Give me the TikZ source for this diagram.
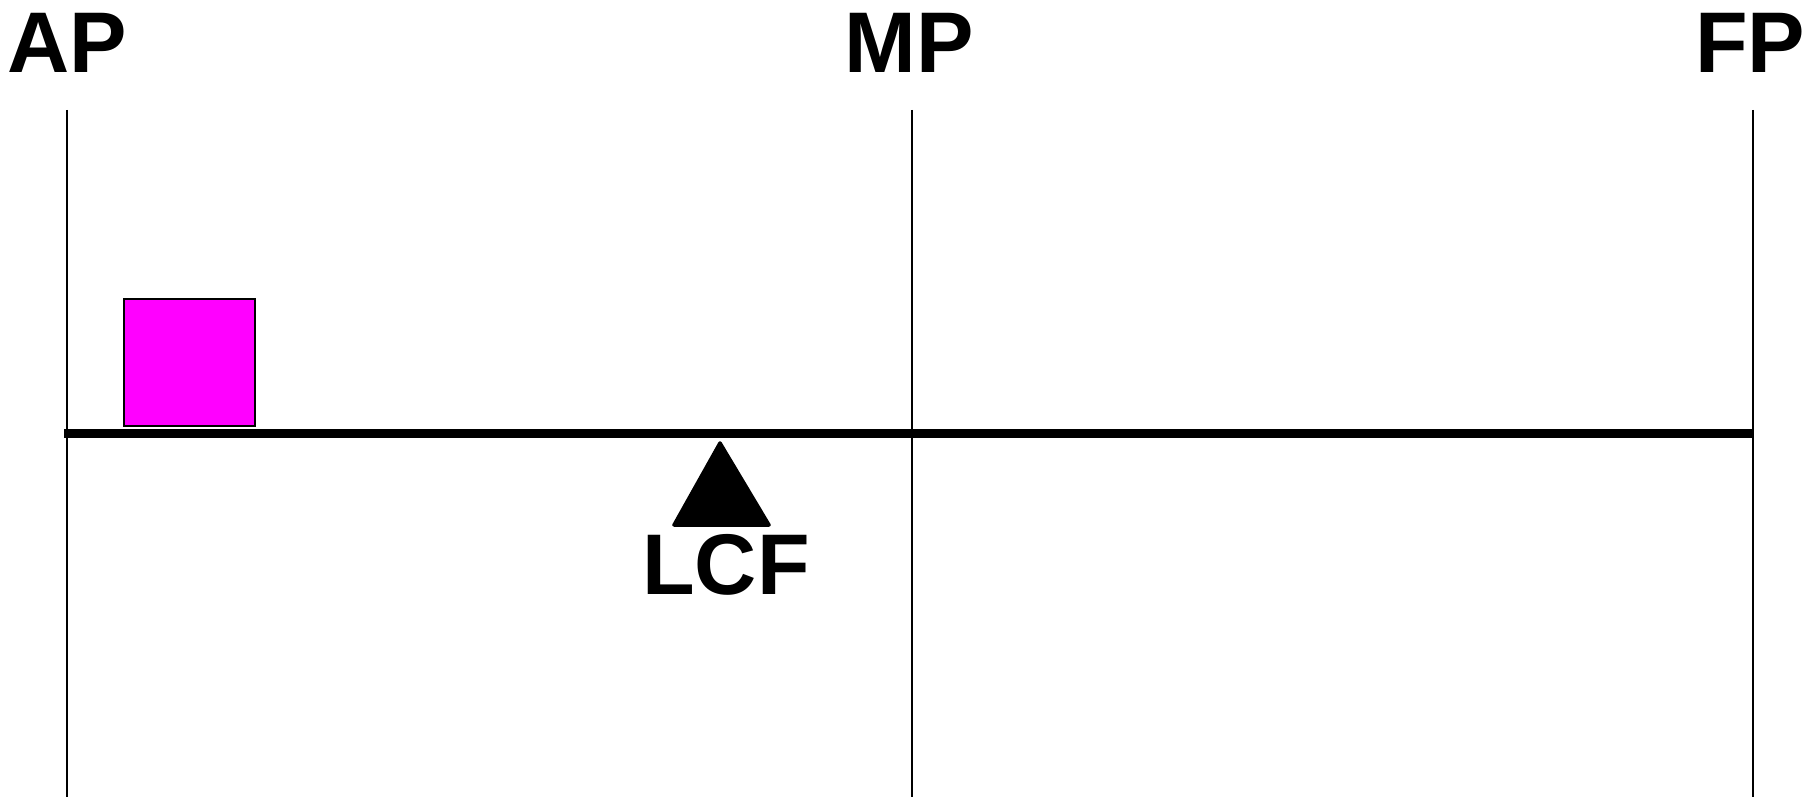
\documentclass[tikz,border=0pt]{standalone}
\usepackage{fontspec}
\setmainfont{Liberation Sans}
\usepackage{tikz}
\usetikzlibrary{positioning,calc}
\definecolor{loadmag}{RGB}{255,0,255}

\begin{document}
\begin{tikzpicture}[
  x=1cm, y=1cm,
  font=\bfseries\fontsize{24.5}{28}\selectfont,
  perp/.style={draw=black, line width=0.75pt},
  beam/.style={draw=black, line width=2.3pt},
  mark label/.style={anchor=base, inner sep=0pt},
  load/.style={draw=black, line width=0.4pt, fill=loadmag, minimum width=1.31cm, minimum height=1.27cm, inner sep=0pt},
  fulcrum/.style={fill=black, draw=black, line width=1pt, line join=round},
]
  \useasboundingbox (0,0) rectangle (18.17,7.97);
  % perpendiculars
  \coordinate (apTop) at (0.67,6.87);  \coordinate (apBot) at (0.67,0);
  \coordinate (mpTop) at (9.12,6.87);  \coordinate (mpBot) at (9.12,0);
  \coordinate (fpTop) at (17.53,6.87); \coordinate (fpBot) at (17.53,0);
  \draw[perp] (apTop) -- (apBot);
  \draw[perp] (mpTop) -- (mpBot);
  \draw[perp] (fpTop) -- (fpBot);
  % labels
  \node[mark label] (ap) at (0.675,7.24) {AP};
  \node[mark label] (mp) at (9.09,7.24) {MP};
  \node[mark label] (fp) at (17.50,7.24) {FP};
  % beam
  \coordinate (beamA) at (0.64,3.635);
  \coordinate (beamF) at (17.53,3.635);
  \draw[beam] (beamA) -- (beamF);
  % weight on the beam
  \node[load] (weight) at (1.895,4.345) {};
  % fulcrum + label
  \coordinate (lcfTop) at (7.20,3.54);
  \coordinate (lcfLeft) at (6.74,2.72);
  \coordinate (lcfRight) at (7.69,2.72);
  \filldraw[fulcrum] (lcfTop) -- (lcfRight) -- (lcfLeft) -- cycle;
  \node[mark label] (lcf) at (7.26,2.02) {LCF};
\end{tikzpicture}
\end{document}
